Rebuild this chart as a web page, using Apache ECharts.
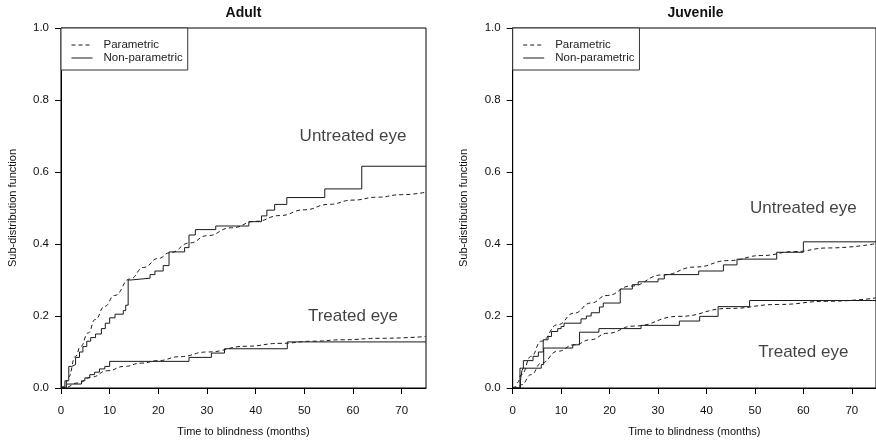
<!DOCTYPE html>
<html>
<head>
<meta charset="utf-8">
<script src="https://cdn.jsdelivr.net/npm/echarts@6/dist/echarts.min.js"></script>
<style>
html, body { margin: 0; padding: 0; background: #fff; }
#chart { width: 876px; height: 442px; }
</style>
</head>
<body>
<div id="chart"></div>
<script>
// panel titles and labels
var panelTitles = ['Adult', 'Juvenile'];
var xTicks = [0, 10, 20, 30, 40, 50, 60, 70];

// adult, non-parametric step curves [month, value]
var adultUntreatedNP = [
    [0, 0], [0.8, 0.02], [1.6, 0.06], [2.2, 0.065], [3.0, 0.085], [3.8, 0.1], [4.5, 0.115],
    [5.3, 0.13], [6.1, 0.14], [7.1, 0.15], [8.3, 0.165], [9.1, 0.18], [10.0, 0.195],
    [11.1, 0.205], [12.8, 0.215], [13.3, 0.23], [13.8, 0.3], [14.3, 0.305], [18.3, 0.315],
    [19.3, 0.325], [21.0, 0.34], [22.2, 0.378], [25.4, 0.39], [26.3, 0.425], [27.6, 0.44],
    [31.8, 0.45], [38.6, 0.462], [41.2, 0.478], [42.3, 0.494], [43.9, 0.51], [46.4, 0.529],
    [54.2, 0.553], [61.8, 0.616], [75, 0.616]
];
var adultTreatedNP = [
    [0, 0], [1.1, 0.011], [4.2, 0.02], [4.9, 0.028], [5.9, 0.037], [6.9, 0.044], [7.9, 0.053],
    [9.0, 0.06], [10.0, 0.074], [26.3, 0.085], [30.9, 0.097], [33.6, 0.109], [46.5, 0.128],
    [75, 0.128]
];
// adult, parametric curves
var adultUntreatedP = [
    [0, 0], [0.8, 0.005], [1.5, 0.03], [3, 0.088], [4, 0.115], [5.6, 0.153], [7, 0.19],
    [9, 0.227], [11, 0.257], [14.2, 0.303], [17, 0.335], [20, 0.36], [22.4, 0.376],
    [26.5, 0.403], [30, 0.423], [35, 0.445], [40, 0.463], [45, 0.479], [50, 0.495],
    [55, 0.51], [60, 0.522], [65, 0.53], [70, 0.537], [75, 0.544]
];
var adultTreatedP = [
    [0, 0], [0.7, 0.001], [3.5, 0.014], [6.2, 0.03], [9.6, 0.048], [13, 0.06], [16.5, 0.069],
    [19.9, 0.076], [24.4, 0.087], [30, 0.1], [38.1, 0.116], [45, 0.124], [51.8, 0.13],
    [58, 0.134], [65.4, 0.138], [75, 0.143]
];

// juvenile, non-parametric step curves
var juvUntreatedNP = [
    [0, 0], [1.5, 0.055], [2.2, 0.076], [4.2, 0.088], [5.3, 0.1], [6.3, 0.134], [7.3, 0.143],
    [8.0, 0.157], [9.3, 0.165], [10.0, 0.171], [10.6, 0.18], [14.1, 0.192], [15.2, 0.2],
    [16.2, 0.209], [17.9, 0.225], [18.7, 0.236], [22.2, 0.275], [24.7, 0.287], [25.9, 0.295],
    [30.0, 0.303], [31.3, 0.315], [38.4, 0.325], [43.5, 0.342], [46.3, 0.358], [54.5, 0.377],
    [60.0, 0.406], [75, 0.406]
];
var juvTreatedNP = [
    [0, 0], [1.6, 0.02], [1.9, 0.048], [2.2, 0.055], [5.9, 0.065], [6.4, 0.111], [12.4, 0.12],
    [13.8, 0.155], [17.8, 0.165], [26.5, 0.174], [34.4, 0.186], [38.6, 0.199], [42.4, 0.226],
    [48.9, 0.243], [75, 0.243]
];
// juvenile, parametric curves
var juvUntreatedP = [
    [0, 0], [0.5, 0.003], [1, 0.015], [1.8, 0.037], [3.8, 0.088], [5.9, 0.13], [9.3, 0.176],
    [12.7, 0.208], [16.1, 0.236], [19.5, 0.257], [24.3, 0.283], [30.9, 0.314], [37.7, 0.336],
    [44.6, 0.354], [51.4, 0.368], [58.2, 0.379], [65.1, 0.389], [75, 0.401]
];
var juvTreatedP = [
    [0, 0], [1, 0.001], [1.8, 0.009], [3.8, 0.037], [5.9, 0.069], [9.3, 0.102], [12.7, 0.12],
    [16.1, 0.134], [19.5, 0.152], [25, 0.172], [34.3, 0.199], [44.6, 0.221], [54.8, 0.232],
    [65.1, 0.241], [75, 0.25]
];

// curve annotations [x, y, text]
var adultNotes = [[60, 0.7, 'Untreated eye'], [60, 0.2, 'Treated eye']];
var juvNotes = [[60, 0.5, 'Untreated eye'], [60, 0.1, 'Treated eye']];

var FONT = 'Liberation Sans, Arial, Helvetica, sans-serif';
var INK = '#1a1a1a';
var grids = [
    { left: 61, top: 28, width: 365, height: 360 },
    { left: 512.7, top: 28, width: 365.6, height: 360 }
];

function stepSeries(data, gi) {
    return {
        name: 'Non-parametric', type: 'line', step: 'end', data: data,
        xAxisIndex: gi, yAxisIndex: gi, symbol: 'none', silent: true,
        itemStyle: { color: INK },
        lineStyle: { color: INK, width: 1 }
    };
}
function paramSeries(data, gi) {
    return {
        name: 'Parametric', type: 'line', smooth: true, smoothMonotone: 'x', data: data,
        xAxisIndex: gi, yAxisIndex: gi, symbol: 'none', silent: true,
        itemStyle: { color: INK },
        lineStyle: { color: INK, width: 1, type: [4, 3] }
    };
}
function noteSeries(data, gi) {
    return {
        type: 'scatter', data: data, xAxisIndex: gi, yAxisIndex: gi, symbolSize: 0, silent: true,
        label: {
            show: true, position: 'inside', color: '#111', fontSize: 17, fontFamily: FONT,
            formatter: function (p) { return p.data[2]; }
        }
    };
}
function legendFor(gi) {
    return {
        data: ['Parametric', 'Non-parametric'], orient: 'vertical',
        left: grids[gi].left, top: 28, itemWidth: 21, itemHeight: 10, itemGap: 1,
        padding: [11, 5, 6, 10], borderColor: '#333', borderWidth: 1, borderRadius: 0,
        backgroundColor: '#fff', selectedMode: false,
        itemStyle: { opacity: 0 },
        lineStyle: { width: 1 },
        textStyle: { fontSize: 11.5, lineHeight: 12, color: '#222', fontFamily: FONT, padding: [0, 0, 0, 6] }
    };
}

var xAxes = [], yAxes = [];
for (var gi = 0; gi < 2; gi++) {
    xAxes.push({
        type: 'value', gridIndex: gi, min: 0, max: 75,
        name: 'Time to blindness (months)', nameLocation: 'middle', nameGap: 38,
        nameTextStyle: { fontSize: 11, color: '#111', fontFamily: FONT },
        axisLine: { lineStyle: { color: '#000', width: 1 } },
        axisTick: { show: true, length: 6, customValues: xTicks, lineStyle: { color: '#000' } },
        axisLabel: { margin: 17, fontSize: 11.5, color: '#111', fontFamily: FONT, customValues: xTicks },
        splitLine: { show: false }
    });
    yAxes.push({
        type: 'value', gridIndex: gi, min: 0, max: 1, interval: 0.2,
        name: 'Sub-distribution function', nameLocation: 'middle', nameRotate: 90, nameGap: 43,
        nameTextStyle: { fontSize: 11, color: '#111', fontFamily: FONT },
        axisLine: { lineStyle: { color: '#000', width: 1 } },
        axisTick: { show: true, length: 6, lineStyle: { color: '#000' } },
        axisLabel: {
            margin: 12, fontSize: 11.5, color: '#111', fontFamily: FONT,
            formatter: function (v) { return v.toFixed(1); }
        },
        splitLine: { show: false }
    });
}

var chart = echarts.init(document.getElementById('chart'), null, { renderer: 'canvas' });
chart.setOption({
    animation: false,
    backgroundColor: '#fff',
    grid: grids.map(function (g) {
        return { left: g.left, top: g.top, width: g.width, height: g.height, show: true,
            borderColor: '#000', borderWidth: 1, backgroundColor: 'transparent' };
    }),
    graphic: panelTitles.map(function (t, i) {
        return {
            type: 'text', x: grids[i].left + grids[i].width / 2, y: 13,
            style: { text: t, textAlign: 'center', textVerticalAlign: 'middle',
                font: 'bold 14px ' + FONT, fill: '#111' }
        };
    }),
    legend: [legendFor(0), legendFor(1)],
    xAxis: xAxes,
    yAxis: yAxes,
    series: [
        paramSeries(adultUntreatedP, 0), stepSeries(adultUntreatedNP, 0),
        paramSeries(adultTreatedP, 0), stepSeries(adultTreatedNP, 0),
        noteSeries(adultNotes, 0),
        paramSeries(juvUntreatedP, 1), stepSeries(juvUntreatedNP, 1),
        paramSeries(juvTreatedP, 1), stepSeries(juvTreatedNP, 1),
        noteSeries(juvNotes, 1)
    ]
});
</script>
</body>
</html>
